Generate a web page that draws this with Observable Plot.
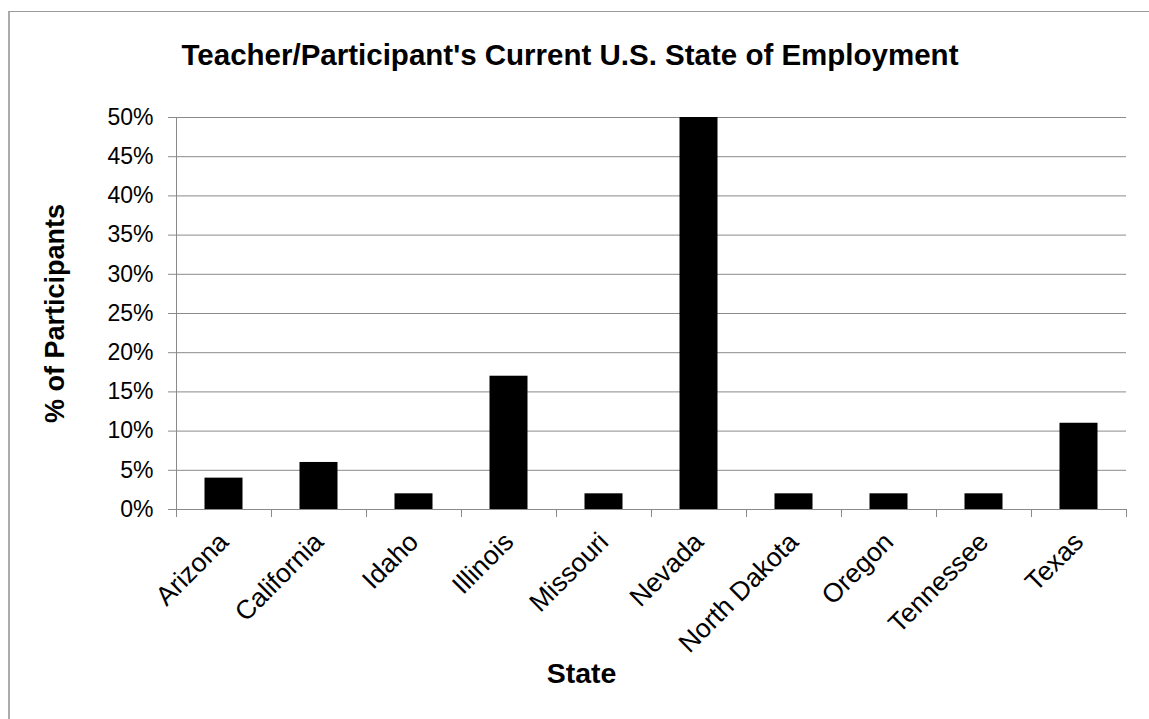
<!DOCTYPE html>
<html>
<head>
<meta charset="utf-8">
<script src="https://cdn.jsdelivr.net/npm/d3@7"></script>
<script src="https://cdn.jsdelivr.net/npm/@observablehq/plot@0.6"></script>
<style>
  html, body { margin: 0; padding: 0; background: #fff; }
  #wrap { position: relative; width: 1149px; height: 719px; overflow: hidden; background: #fff; font-family: "Liberation Sans", Arial, sans-serif; }
  #border { position: absolute; left: 8px; top: 11px; width: 1200px; height: 800px; border-left: 2px solid #ababab; border-top: 1.5px solid #9a9a9a; }
  #title { position: absolute; left: 0; width: 1140px; top: 40px; text-align: center; font-weight: bold; font-size: 29.5px; line-height: 29.5px; color: #000; white-space: nowrap; }
  #chart { position: absolute; left: 0; top: 0; }
</style>
</head>
<body>
<div id="wrap">
  <div id="border"></div>
  <div id="chart"></div>
  <div id="title">Teacher/Participant's Current U.S. State of Employment</div>
</div>
<script>
const states = ["Arizona", "California", "Idaho", "Illinois", "Missouri", "Nevada", "North Dakota", "Oregon", "Tennessee", "Texas"];
const percents = [4, 6, 2, 17, 2, 50, 2, 2, 2, 11];
const yTicks = [0, 5, 10, 15, 20, 25, 30, 35, 40, 45, 50];
const xTitle = "State";
const yTitle = "% of Participants";

const gridColor = "#8a8a8a";
const band = (1126 - 176) / states.length;

const chart = Plot.plot({
  width: 1149,
  height: 719,
  marginTop: 117,
  marginBottom: 210,
  marginLeft: 176,
  marginRight: 23,
  style: { fontFamily: "'Liberation Sans', Arial, sans-serif", fontSize: "23px", color: "#000", background: "transparent" },
  x: { domain: states, padding: 0 },
  y: { domain: [0, 50] },
  marks: [
    Plot.gridY(yTicks, { stroke: gridColor, strokeOpacity: 1 }),
    Plot.barY(percents, { x: states, y: percents, fill: "#000", insetLeft: band * 0.3, insetRight: band * 0.3 }),
    Plot.ruleY([0], { stroke: gridColor }),
    Plot.frame({ anchor: "left", stroke: gridColor }),
    Plot.axisY(yTicks, { tickSize: 8, tickPadding: 15, stroke: gridColor, fill: "#000", tickFormat: d => d + "%", label: null, fontSize: 23 }),
    Plot.axisX(states, { tickSize: 8, tickFormat: () => "", dx: -band / 2, stroke: gridColor, label: null }),
    Plot.axisX(["Texas"], { tickSize: 8, tickFormat: () => "", dx: band / 2, stroke: gridColor, label: null }),
    Plot.axisX(states, { tickSize: 0, tickPadding: 28, tickRotate: -45, dx: 0, fill: "#000", label: null, fontSize: 26.5 }),
    Plot.text([yTitle], { frameAnchor: "left", dx: -121, rotate: -90, textAnchor: "middle", lineAnchor: "middle", fontWeight: "bold", fontSize: 27, fill: "#000" }),
    Plot.text([xTitle], { frameAnchor: "bottom", dx: -70, dy: 164, textAnchor: "middle", lineAnchor: "middle", fontWeight: "bold", fontSize: 28.5, fill: "#000" })
  ]
});
document.getElementById("chart").appendChild(chart);
</script>
</body>
</html>
